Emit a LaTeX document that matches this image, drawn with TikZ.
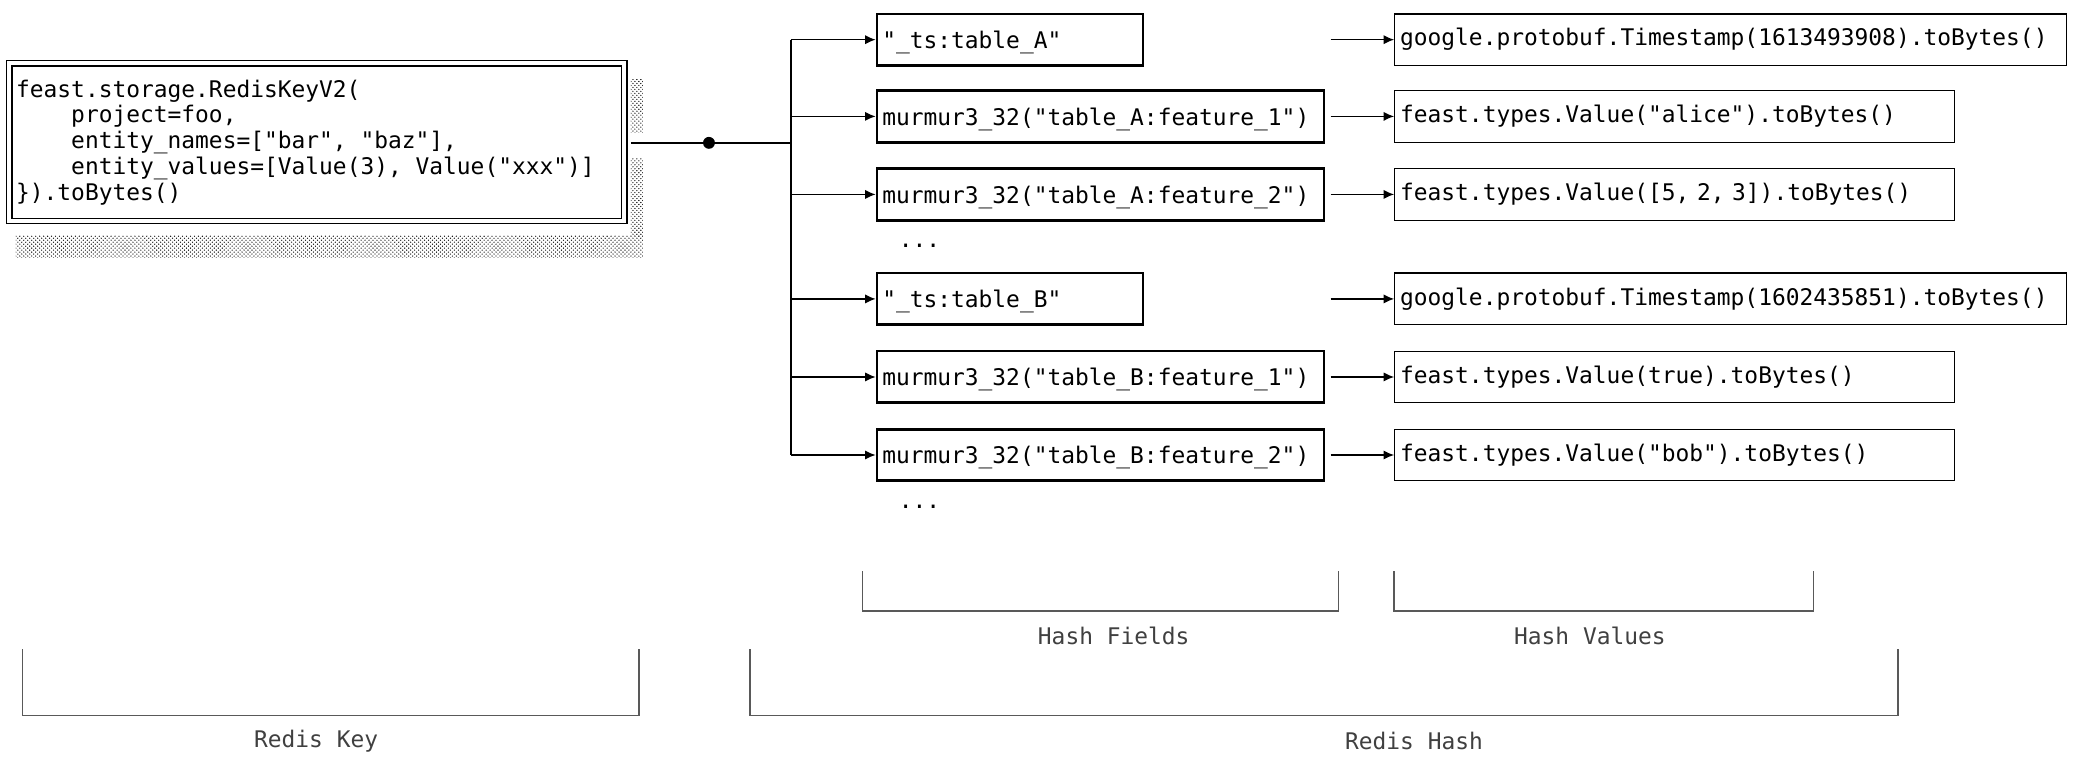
\documentclass[tikz,border=0pt]{standalone}
\usepackage{fontspec}
\setmonofont{DejaVu Sans Mono}
\usetikzlibrary{arrows.meta,patterns}
\begin{document}
\begin{tikzpicture}[x=1pt,y=-1pt,
  txt/.style={font=\fontsize{17.3}{19.5}\selectfont\ttfamily},
  fbox/.style={draw,line width=2pt,minimum height=39pt,inner sep=0pt,anchor=west,text depth=0pt},
  vbox/.style={draw,line width=1pt,minimum height=39pt,inner sep=0pt,anchor=west},
  arr/.style={-{Latex[length=8pt,width=7pt]},line width=1pt},
  brk/.style={draw=black!65,line width=1.2pt},
  blab/.style={font=\fontsize{17.3}{19}\selectfont\ttfamily,text=black!75}]
\useasboundingbox (0,0) rectangle (1568,571.6);
% shadow
\fill[pattern=crosshatch dots] (12,178) rectangle (486,195);
\fill[pattern=crosshatch dots] (477,60) rectangle (486,100);
\fill[pattern=crosshatch dots] (477,120) rectangle (486,178);
% key box
\draw[line width=1pt] (5,46) rectangle (474,169);
\draw[line width=1pt,fill=white] (9,50) rectangle (470,165);
\node[txt,anchor=north west,align=left,inner sep=0pt] (key) at (12,60) {feast.storage.RedisKeyV2(\\
\ \ \ \ project=foo,\\
\ \ \ \ entity\_names=["bar", "baz"],\\
\ \ \ \ entity\_values=[Value(3), Value("xxx")]\\
\}).toBytes()};
\coordinate (kr) at (477,108);
\coordinate (bus) at (598,108);
\draw[line width=1pt] (kr) -- (bus);
\fill (536,108) circle (4.5pt);
\draw[line width=1pt] (598,30) -- (598,344);
% fields
\foreach \n/\y/\w/\t in {f1/30/201/{"\_ts:table\_A"},f2/88/338/{murmur3\_32("table\_A:feature\_1")},f3/147/338/{murmur3\_32("table\_A:feature\_2")},f4/226/201/{"\_ts:table\_B"},f5/285/338/{murmur3\_32("table\_B:feature\_1")},f6/344/338/{murmur3\_32("table\_B:feature\_2")}}{
  \node[fbox,txt,minimum width=\w pt,text width=\w pt-8pt,align=left,inner xsep=4pt] (\n) at (662,\y) {\t};
  \coordinate (s\n) at (598,\y);
  \draw[arr] (s\n) -- (\n.west);
}
\foreach \n/\y/\w/\t in {v1/30/508/{google.protobuf.Timestamp(1613493908).toBytes()},v2/88/423/{feast.types.Value("alice").toBytes()},v3/147/423/{feast.types.Value([5, 2, 3]).toBytes()},v4/226/508/{google.protobuf.Timestamp(1602435851).toBytes()},v5/285/423/{feast.types.Value(true).toBytes()},v6/344/423/{feast.types.Value("bob").toBytes()}}{
  \node[vbox,txt,minimum width=\w pt,text width=\w pt-8pt,align=left,inner xsep=4pt] (\n) at (1054,\y) {\t};
  \coordinate (a\n) at (1006,\y);
  \draw[arr] (a\n) -- (\n.west);
}
\node[txt,anchor=west] (d1) at (676,186) {...};
\node[txt,anchor=west] (d2) at (676,383) {...};
% brackets
\draw[brk] (652,432) |- (1012,462) -- (1012,432);
\node[blab] (hf) at (842,481) {Hash Fields};
\draw[brk] (1054,432) |- (1371,462) -- (1371,432);
\node[blab] (hv) at (1202,481) {Hash Values};
\draw[brk] (17,491) |- (483,541) -- (483,491);
\node[blab] (rk) at (239,560) {Redis Key};
\draw[brk] (567,491) |- (1435,541) -- (1435,491);
\node[blab] (rh) at (1069,560) {Redis Hash};
\end{tikzpicture}
\end{document}
